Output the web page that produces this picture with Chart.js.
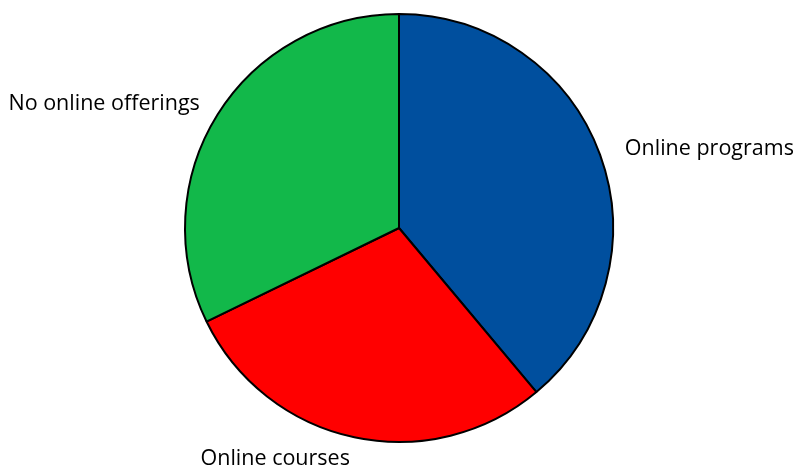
<!DOCTYPE html>
<html>
<head>
<meta charset="utf-8">
<script src="https://cdn.jsdelivr.net/npm/chart.js@4"></script>
<style>
  html, body { margin: 0; padding: 0; background: #fff; }
  #wrap { width: 793px; height: 467px; }
</style>
</head>
<body>
<div id="wrap"><canvas id="pie"></canvas></div>
<script>
// datos del gráfico
const categories = ['Online programs', 'Online courses', 'No online offerings'];
const shares = [38.9, 28.9, 32.2];
const sliceColors = ['#004F9E', '#FF0000', '#12B84A'];

// etiquetas fuera del círculo, junto a cada porción
const outsideLabels = {
    id: 'outsideLabels',
    afterDatasetsDraw(chart) {
        const ctx = chart.ctx;
        const meta = chart.getDatasetMeta(0);
        ctx.save();
        ctx.font = '21.5px "Open Sans", sans-serif';
        ctx.fillStyle = '#000';
        ctx.textBaseline = 'middle';
        meta.data.forEach((arc, i) => {
            const p = arc.getProps(['x', 'y', 'startAngle', 'endAngle', 'outerRadius'], true);
            const mid = (p.startAngle + p.endAngle) / 2;
            const r = p.outerRadius + 21;
            const right = Math.cos(mid) >= 0;
            const x = p.x + Math.cos(mid) * r + (right ? 5 : 0);
            const y = p.y + Math.sin(mid) * r + 1;
            ctx.textAlign = right ? 'left' : 'right';
            ctx.fillText(chart.data.labels[i], x, y);
        });
        ctx.restore();
    }
};

new Chart(document.getElementById('pie'), {
    type: 'pie',
    data: {
        labels: categories,
        datasets: [{
            data: shares,
            backgroundColor: sliceColors,
            borderColor: '#000',
            borderWidth: 2
        }]
    },
    options: {
        responsive: true,
        maintainAspectRatio: false,
        animation: false,
        layout: { padding: { top: 13, bottom: 24, left: 5, right: 0 } },
        plugins: {
            legend: { display: false },
            tooltip: { enabled: false }
        }
    },
    plugins: [outsideLabels]
});
</script>
</body>
</html>
